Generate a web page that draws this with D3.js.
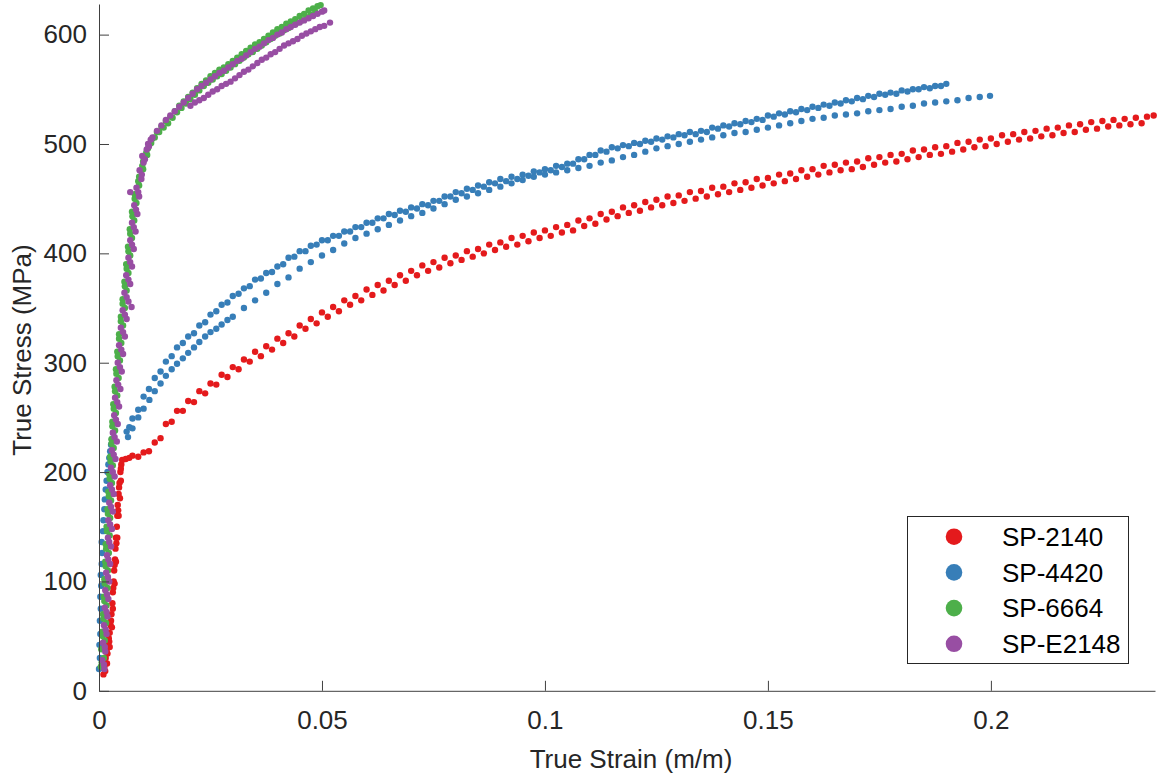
<!DOCTYPE html>
<html>
<head>
<meta charset="utf-8">
<script src="https://cdn.jsdelivr.net/npm/d3@7"></script>
<style>
  body { margin: 0; background: #fff; }
  svg { display: block; font-family: "Liberation Sans", Arial, sans-serif; }
</style>
</head>
<body>
<svg id="chart" width="1160" height="778"></svg>
<script>
// strain (m/m), true stress (MPa)

var sp2140Elastic = [[0.0010,15],[0.0012,22],[0.0015,30],[0.0017,37],[0.0020,42],[0.0022,48],[0.0024,53],[0.0026,60],[0.0028,70],[0.0030,80],[0.0031,90],[0.0033,100],[0.0034,110],[0.0036,120],[0.0037,130],[0.0038,140],[0.0040,150],[0.0041,160],[0.0042,170],[0.0044,180],[0.0046,190],[0.0048,200],[0.0050,207],[0.0052,211],
  [0.0014,18],[0.0019,34],[0.0023,45],[0.0027,64],[0.0032,94],[0.0035,115],[0.0039,135],[0.0043,165],[0.0045,186],[0.0049,203],
  [0.0018,25],[0.0024,40],[0.0029,58],[0.0031,75],[0.0035,98],[0.0038,118],[0.0041,140],[0.0044,160],[0.0047,176],[0.0049,192]];

var sp2140RunA = [[0.0060,212],[0.0075,215],[0.0100,218],[0.0125,227],[0.0150,244],[0.0175,256],[0.0200,265],[0.0225,274],[0.0250,281],[0.0275,289],[0.0300,296],[0.0325,303],[0.0350,310],[0.0375,315],[0.0400,322],[0.0425,327],[0.0450,334],[0.0475,340],[0.0500,346],[0.0525,351],[0.0550,357],[0.0575,361],[0.0600,367],[0.0625,371],[0.0650,375],[0.0675,380],[0.0700,384],[0.0725,389],[0.0750,392],[0.0775,396],[0.0800,398],[0.0825,402],[0.0850,404],[0.0875,408],[0.0900,410],[0.0925,414],[0.0950,416],[0.0975,419],[0.1000,421],[0.1025,424],[0.1050,426],[0.1075,430],[0.1100,432],[0.1125,436],[0.1150,438],[0.1175,442],[0.1200,444],[0.1225,447],[0.1250,449],[0.1275,452],[0.1300,453],[0.1325,456],[0.1350,457],[0.1375,460],[0.1400,461],[0.1425,464],[0.1450,465],[0.1475,468],[0.1500,469],[0.1525,472],[0.1550,473],[0.1575,476],[0.1600,477],[0.1625,480],[0.1650,481],[0.1675,483],[0.1700,484],[0.1725,487],[0.1750,488],[0.1775,490],[0.1800,491],[0.1825,494],[0.1850,495],[0.1875,497],[0.1900,498],[0.1925,501],[0.1950,502],[0.1975,504],[0.2000,505],[0.2025,508],[0.2050,509],[0.2075,511],[0.2100,512],[0.2125,514],[0.2150,515],[0.2175,517],[0.2200,518],[0.2225,520],[0.2250,521],[0.2275,522],[0.2300,523],[0.2325,524],[0.2350,525],[0.2365,526]];

var sp2140RunB = [[0.0068,213],[0.0088,214],[0.0112,219],[0.0138,231],[0.0163,246],[0.0188,256],[0.0213,264],[0.0238,272],[0.0263,280],[0.0288,287],[0.0313,294],[0.0338,301],[0.0363,306],[0.0388,312],[0.0413,318],[0.0438,324],[0.0463,331],[0.0488,336],[0.0513,342],[0.0538,347],[0.0563,353],[0.0588,357],[0.0613,362],[0.0638,366],[0.0663,371],[0.0688,375],[0.0713,380],[0.0738,384],[0.0763,387],[0.0788,391],[0.0813,394],[0.0838,397],[0.0863,400],[0.0888,403],[0.0913,406],[0.0938,408],[0.0963,411],[0.0988,414],[0.1013,416],[0.1038,419],[0.1063,421],[0.1088,425],[0.1113,427],[0.1138,431],[0.1163,434],[0.1188,437],[0.1213,439],[0.1238,442],[0.1263,444],[0.1288,446],[0.1313,448],[0.1338,450],[0.1363,452],[0.1388,454],[0.1413,456],[0.1438,458],[0.1463,460],[0.1488,462],[0.1513,464],[0.1538,466],[0.1563,468],[0.1588,470],[0.1613,472],[0.1638,474],[0.1663,476],[0.1688,477],[0.1713,479],[0.1738,481],[0.1763,483],[0.1788,484],[0.1813,486],[0.1838,488],[0.1863,490],[0.1888,491],[0.1913,493],[0.1938,495],[0.1963,497],[0.1988,498],[0.2013,500],[0.2038,502],[0.2063,504],[0.2088,505],[0.2113,507],[0.2138,508],[0.2163,510],[0.2188,511],[0.2213,513],[0.2238,514],[0.2263,516],[0.2288,517],[0.2313,518],[0.2338,519]];

var sp4420Elastic = [[0.0000,20],[0.0002,30],[0.0001,42],[0.0003,52],[0.0002,64],[0.0004,75],[0.0003,86],[0.0005,96],[0.0004,106],[0.0006,116],[0.0007,126],[0.0006,136],[0.0009,146],[0.0010,156],[0.0012,166],[0.0013,175],[0.0015,184],[0.0017,192],[0.0019,200],[0.0021,207],[0.0023,213],[0.0025,219],[0.0027,225],[0.0029,230],[0.0032,236]];

var sp4420Upper = [[0.0062,237],[0.0075,249],[0.0100,269],[0.0125,286],[0.0150,301],[0.0175,314],[0.0200,324],[0.0225,334],[0.0250,344],[0.0275,353],[0.0300,361],[0.0325,368],[0.0350,376],[0.0375,382],[0.0400,388],[0.0425,396],[0.0450,402],[0.0475,407],[0.0500,412],[0.0525,416],[0.0550,420],[0.0575,424],[0.0600,428],[0.0625,432],[0.0650,436],[0.0675,439],[0.0700,442],[0.0725,445],[0.0750,448],[0.0775,452],[0.0800,456],[0.0825,459],[0.0850,462],[0.0875,465],[0.0900,468],[0.0925,470],[0.0950,472],[0.0975,475],[0.1000,477],[0.1025,480],[0.1050,482],[0.1075,486],[0.1100,490],[0.1125,494],[0.1150,497],[0.1175,499],[0.1200,501],[0.1225,503],[0.1250,505],[0.1275,507],[0.1300,509],[0.1325,511],[0.1350,512],[0.1375,515],[0.1400,517],[0.1425,519],[0.1450,521],[0.1475,523],[0.1500,526],[0.1525,528],[0.1550,530],[0.1575,532],[0.1600,534],[0.1625,536],[0.1650,538],[0.1675,540],[0.1700,542],[0.1725,544],[0.1750,546],[0.1775,547],[0.1800,549],[0.1825,550],[0.1850,552],[0.1875,553],[0.1900,555]];

var sp4420UpperB = [[0.0068,241],[0.0088,257],[0.0112,276],[0.0138,292],[0.0163,306],[0.0188,318],[0.0213,327],[0.0238,337],[0.0263,347],[0.0288,355],[0.0313,363],[0.0338,370],[0.0363,377],[0.0388,383],[0.0413,390],[0.0438,397],[0.0463,402],[0.0488,408],[0.0513,412],[0.0538,416],[0.0563,420],[0.0588,424],[0.0613,428],[0.0638,432],[0.0663,435],[0.0688,438],[0.0713,441],[0.0738,444],[0.0763,448],[0.0788,452],[0.0813,455],[0.0838,458],[0.0863,461],[0.0888,464],[0.0913,466],[0.0938,468],[0.0963,471],[0.0988,474],[0.1013,476],[0.1038,479],[0.1063,482],[0.1088,486],[0.1113,490],[0.1138,493],[0.1163,496],[0.1188,498],[0.1213,500],[0.1238,502],[0.1263,504],[0.1288,506],[0.1313,508],[0.1338,509],[0.1363,511],[0.1388,514],[0.1413,516],[0.1438,518],[0.1463,520],[0.1488,522],[0.1513,525],[0.1538,527],[0.1563,529],[0.1588,531],[0.1613,533],[0.1638,535],[0.1663,537],[0.1688,539],[0.1713,541],[0.1738,543],[0.1763,545],[0.1788,546],[0.1813,548],[0.1838,550],[0.1863,551],[0.1888,553]];

var sp4420Lower = [[0.0065,232],[0.0075,240],[0.0088,250],[0.0100,258],[0.0113,266],[0.0125,274],[0.0138,281],[0.0150,288],[0.0163,294],[0.0175,299],[0.0188,304],[0.0200,309],[0.0213,314],[0.0225,319],[0.0238,324],[0.0250,328],[0.0263,331],[0.0275,335],[0.0288,339],[0.0300,342],[0.0325,350],[0.0350,357],[0.0375,364],[0.0400,372],[0.0425,378],[0.0450,386],[0.0475,392],[0.0500,398],[0.0525,403],[0.0550,409],[0.0575,414],[0.0600,418],[0.0625,422],[0.0650,426],[0.0675,430],[0.0700,434],[0.0725,437],[0.0750,441],[0.0775,445],[0.0800,449],[0.0825,452],[0.0850,455],[0.0875,458],[0.0900,461],[0.0925,464],[0.0950,467],[0.0975,470],[0.1000,472],[0.1025,474],[0.1050,476],[0.1075,478],[0.1100,480],[0.1125,483],[0.1150,485],[0.1175,488],[0.1200,490],[0.1225,493],[0.1250,496],[0.1275,498],[0.1300,500],[0.1325,502],[0.1350,504],[0.1375,506],[0.1400,508],[0.1425,510],[0.1450,511],[0.1475,513],[0.1500,515],[0.1525,517],[0.1550,519],[0.1575,521],[0.1600,523],[0.1625,524],[0.1650,526],[0.1675,527],[0.1700,528],[0.1725,530],[0.1750,531],[0.1775,532],[0.1800,534],[0.1825,535],[0.1850,537],[0.1875,538],[0.1900,539],[0.1925,540],[0.1950,542],[0.1975,543],[0.1998,544]];

var sp6664Steep = [[0.0004,22],[0.0011,30],[0.0005,38],[0.0013,46],[0.0007,54],[0.0016,62],[0.0009,70],[0.0017,78],[0.0011,86],[0.0019,94],[0.0012,102],[0.0020,110],[0.0014,118],[0.0022,126],[0.0015,134],[0.0024,142],[0.0017,150],[0.0025,158],[0.0019,166],[0.0027,174],[0.0021,182],[0.0029,190],[0.0023,198],[0.0031,206],[0.0025,214],[0.0033,222],[0.0028,230],[0.0036,238],[0.0030,246],[0.0038,254],[0.0032,262],[0.0041,270],[0.0035,278],[0.0044,286],[0.0038,294],[0.0047,302],[0.0041,310],[0.0050,318],[0.0045,326],[0.0054,334],[0.0049,342],[0.0058,350],[0.0053,358],[0.0062,366],[0.0057,374],[0.0066,382],[0.0061,390],[0.0070,398],[0.0065,406],[0.0074,414],[0.0069,422],[0.0079,430],[0.0074,438],[0.0084,446],[0.0080,454],[0.0090,462],[0.0090,470],[0.0099,477],[0.0099,484],[0.0108,490],[0.0110,496],[0.0117,501]];

var sp6664SteepMid = [[0.0006,26],[0.0008,50],[0.0010,66],[0.0012,82],[0.0013,98],[0.0015,114],[0.0016,130],[0.0018,146],[0.0020,162],[0.0022,178],[0.0024,194],[0.0026,210],[0.0028,226],[0.0030,242],[0.0033,258],[0.0036,274],[0.0039,290],[0.0042,306],[0.0045,322],[0.0049,338],[0.0053,354],[0.0058,370],[0.0062,386],[0.0066,402],[0.0070,418],[0.0075,434],[0.0080,450],[0.0088,466],[0.0097,480],[0.0106,492]];

var sp6664RunA = [[0.0120,505],[0.0130,511],[0.0140,516],[0.0150,521],[0.0160,525],[0.0170,530],[0.0180,535],[0.0190,539],[0.0200,543],[0.0210,547],[0.0220,551],[0.0230,555],[0.0240,558],[0.0250,562],[0.0260,565],[0.0270,568],[0.0280,570],[0.0290,573],[0.0300,576],[0.0310,579],[0.0320,582],[0.0330,585],[0.0340,588],[0.0350,591],[0.0360,593],[0.0370,596],[0.0380,599],[0.0390,602],[0.0400,605],[0.0410,607],[0.0420,610],[0.0430,612],[0.0440,614],[0.0450,617],[0.0460,619],[0.0470,622],[0.0480,624],[0.0490,626],[0.0497,627]];

var sp6664RunB = [[0.0125,506],[0.0135,511],[0.0145,515],[0.0155,519],[0.0165,524],[0.0175,529],[0.0185,533],[0.0195,537],[0.0205,541],[0.0215,545],[0.0225,549],[0.0235,553],[0.0245,556],[0.0255,559],[0.0265,562],[0.0275,564],[0.0285,567],[0.0295,570],[0.0305,573],[0.0315,576],[0.0325,579],[0.0335,582],[0.0345,584],[0.0355,587],[0.0365,590],[0.0375,593],[0.0385,596],[0.0395,599],[0.0405,601],[0.0415,604],[0.0425,606],[0.0435,609],[0.0445,611],[0.0455,613],[0.0465,616],[0.0475,618],[0.0485,621]];

var spE2148Steep = [[0.0012,20],[0.0007,28],[0.0014,36],[0.0009,44],[0.0017,52],[0.0011,60],[0.0019,68],[0.0013,76],[0.0021,84],[0.0014,92],[0.0023,100],[0.0016,108],[0.0025,116],[0.0018,124],[0.0027,132],[0.0020,140],[0.0029,148],[0.0021,156],[0.0031,164],[0.0023,172],[0.0033,180],[0.0025,188],[0.0035,196],[0.0027,204],[0.0037,212],[0.0029,220],[0.0040,228],[0.0031,236],[0.0042,244],[0.0034,252],[0.0045,260],[0.0036,268],[0.0048,276],[0.0039,284],[0.0051,292],[0.0042,300],[0.0054,308],[0.0045,316],[0.0058,324],[0.0049,332],[0.0062,340],[0.0053,348],[0.0066,356],[0.0057,364],[0.0070,372],[0.0061,380],[0.0074,388],[0.0066,396],[0.0078,404],[0.0070,412],[0.0082,420],[0.0074,428],[0.0086,436],[0.0079,444],[0.0090,452],[0.0084,460],[0.0095,468],[0.0091,476],[0.0100,483],[0.0097,489],[0.0107,495],[0.0110,500],[0.0116,504],[0.0070,456],[0.0073,351]];

var spE2148SteepMid = [[0.0011,24],[0.0013,40],[0.0015,56],[0.0017,72],[0.0018,88],[0.0020,104],[0.0021,120],[0.0023,136],[0.0025,152],[0.0027,168],[0.0029,184],[0.0031,200],[0.0033,216],[0.0035,232],[0.0038,248],[0.0041,264],[0.0043,280],[0.0047,296],[0.0050,312],[0.0054,328],[0.0058,344],[0.0062,360],[0.0066,376],[0.0070,392],[0.0074,408],[0.0078,424],[0.0083,440],[0.0088,456],[0.0096,472],[0.0103,486],[0.0112,498]];

var spE2148Upper = [[0.0120,506],[0.0130,512],[0.0140,517],[0.0150,522],[0.0160,526],[0.0170,530],[0.0180,534],[0.0190,538],[0.0200,542],[0.0210,546],[0.0220,550],[0.0230,553],[0.0240,556],[0.0250,559],[0.0260,562],[0.0270,565],[0.0280,567],[0.0290,570],[0.0300,573],[0.0310,576],[0.0320,578],[0.0330,581],[0.0340,584],[0.0350,587],[0.0360,589],[0.0370,592],[0.0380,595],[0.0390,597],[0.0400,600],[0.0410,602],[0.0420,605],[0.0430,607],[0.0440,609],[0.0450,611],[0.0460,613],[0.0470,615],[0.0480,617],[0.0490,619],[0.0500,621],[0.0505,622]];

var spE2148Lower = [[0.0205,535],[0.0215,538],[0.0225,540],[0.0235,542],[0.0245,545],[0.0255,548],[0.0265,550],[0.0275,553],[0.0285,555],[0.0295,557],[0.0305,560],[0.0315,563],[0.0325,566],[0.0335,568],[0.0345,571],[0.0355,574],[0.0365,577],[0.0375,579],[0.0385,582],[0.0395,584],[0.0405,587],[0.0415,590],[0.0425,592],[0.0435,594],[0.0445,596],[0.0455,599],[0.0465,601],[0.0475,603],[0.0485,605],[0.0495,607],[0.0505,608],[0.0518,611]];

var seriesNames = ["SP-2140", "SP-4420", "SP-6664", "SP-E2148"];
var seriesColors = ["#e41a1c", "#377eb8", "#4daf4a", "#984ea3"];

var xTicks = [0, 0.05, 0.1, 0.15, 0.2];
var xTickLabels = ["0", "0.05", "0.1", "0.15", "0.2"];
var yTicks = [0, 100, 200, 300, 400, 500, 600];

var series = [
  { name: seriesNames[0], color: seriesColors[0], pts: sp2140Elastic.concat(sp2140RunA, sp2140RunB) },
  { name: seriesNames[1], color: seriesColors[1], pts: sp4420Elastic.concat(sp4420Upper, sp4420UpperB, sp4420Lower) },
  { name: seriesNames[2], color: seriesColors[2], pts: sp6664Steep.concat(sp6664SteepMid, sp6664RunA, sp6664RunB) },
  { name: seriesNames[3], color: seriesColors[3], pts: spE2148Steep.concat(spE2148SteepMid, spE2148Upper, spE2148Lower) }
];

var svg = d3.select("#chart");
var plotLeft = 99, plotRight = 1155, plotTop = 4, plotBottom = 690.8;

var x = d3.scaleLinear().domain([0, 0.2368]).range([plotLeft, plotRight]);
var y = d3.scaleLinear().domain([0, 628]).range([plotBottom, plotTop]);

var axisColor = "#404040";
var textColor = "#262626";

// points
var plot = svg.append("g").attr("class", "points");
series.forEach(function(s) {
  plot.append("g")
    .selectAll("circle")
    .data(s.pts)
    .enter()
    .append("circle")
    .attr("cx", function(d) { return x(d[0]); })
    .attr("cy", function(d) { return y(d[1]); })
    .attr("r", 3.2)
    .attr("fill", s.color);
});

// axes, ticks pointing inward
var xAxis = svg.append("g")
  .attr("transform", "translate(0," + plotBottom + ")")
  .call(d3.axisBottom(x)
    .tickValues(xTicks)
    .tickFormat(function(d, i) { return xTickLabels[i]; })
    .tickSizeInner(-10)
    .tickSizeOuter(0)
    .tickPadding(20));

var yAxis = svg.append("g")
  .attr("transform", "translate(" + plotLeft + ",0)")
  .call(d3.axisLeft(y)
    .tickValues(yTicks)
    .tickSizeInner(-10)
    .tickSizeOuter(0)
    .tickPadding(12));

[xAxis, yAxis].forEach(function(a) {
  a.select(".domain").attr("stroke", axisColor).attr("stroke-width", 1);
  a.selectAll(".tick line").attr("stroke", axisColor).attr("stroke-width", 1);
  a.selectAll(".tick text")
    .attr("fill", textColor)
    .style("font-size", "26px")
    .style("font-family", "'Liberation Sans', Arial, sans-serif");
});

// axis titles
svg.append("text")
  .attr("x", (plotLeft + plotRight) / 2 + 4)
  .attr("y", 768)
  .attr("text-anchor", "middle")
  .attr("fill", textColor)
  .style("font-size", "26px")
  .text("True Strain (m/m)");

svg.append("text")
  .attr("transform", "translate(31," + 350 + ") rotate(-90)")
  .attr("text-anchor", "middle")
  .attr("fill", textColor)
  .style("font-size", "26px")
  .text("True Stress (MPa)");

// legend
var legend = svg.append("g").attr("class", "legend");
legend.append("rect")
  .attr("x", 907.5).attr("y", 516.5)
  .attr("width", 221).attr("height", 147)
  .attr("fill", "#fff")
  .attr("stroke", "#262626")
  .attr("stroke-width", 1);

var rows = legend.selectAll("g.row")
  .data(series)
  .enter()
  .append("g")
  .attr("class", "row")
  .attr("transform", function(d, i) { return "translate(954," + (536.7 + i * 35.7) + ")"; });

rows.append("circle")
  .attr("r", 8.3)
  .attr("fill", function(d) { return d.color; });

rows.append("text")
  .attr("x", 48)
  .attr("dy", "0.36em")
  .attr("fill", "#000")
  .style("font-size", "26px")
  .text(function(d) { return d.name; });
</script>
</body>
</html>
